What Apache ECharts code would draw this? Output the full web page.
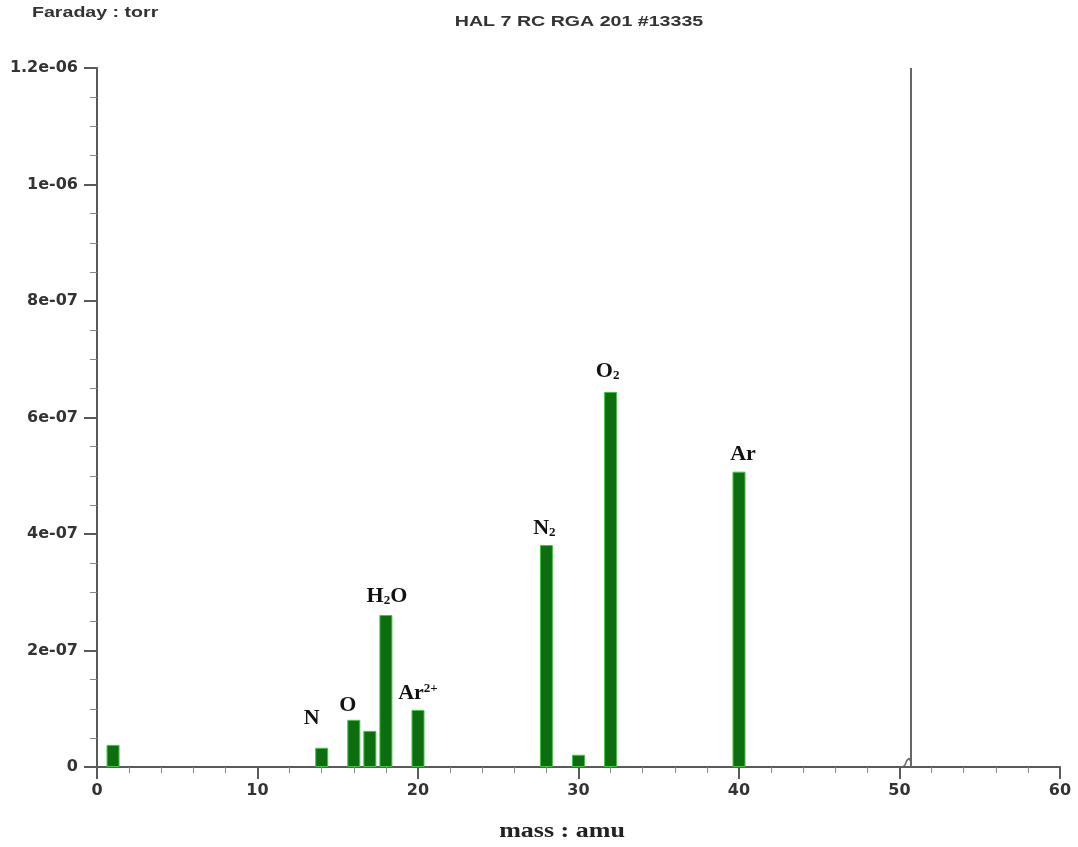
<!DOCTYPE html>
<html>
<head>
<meta charset="utf-8">
<style>
  html, body { margin: 0; padding: 0; background: #ffffff; }
  #chart { width: 1078px; height: 847px; }
</style>
<script src="https://cdn.jsdelivr.net/npm/echarts@6/dist/echarts.min.js"></script>
</head>
<body>
<div id="chart"></div>
<script>
// Mass spectrum peaks (mass in amu, partial pressure in torr)
const masses    = [1, 14, 16, 17, 18, 20, 28, 30, 32, 40];
const pressures = [3.8e-8, 3.3e-8, 8.1e-8, 6.2e-8, 2.61e-7, 9.8e-8, 3.81e-7, 2.1e-8, 6.44e-7, 5.07e-7];
const species   = ['', 'N', 'O', '', 'H2O', 'Ar2+', 'N2', '', 'O2', 'Ar'];

// Scan cursor position and the short trace leading up to it
const cursorMass = 50.7;
const traceMass  = [50.2, 50.35, 50.45, 50.6, 50.7, 50.75];
const traceValue = [0, 4e-9, 1.1e-8, 1.5e-8, 1.6e-8, 6e-9];

// Axis ticks
const xTicks = { min: 0, max: 60, interval: 10 };
const yTicks = { min: 0, max: 1.2e-6, interval: 2e-7 };

// Rich-text forms of the species names (subscripts / superscripts)
const richNames = {
  'N': '{b|N}',
  'O': '{b|O}',
  'H2O': '{b|H}{sub|2}{b|O}',
  'Ar2+': '{b|Ar}{sup|2+}',
  'N2': '{b|N}{sub|2}',
  'O2': '{b|O}{sub|2}',
  'Ar': '{b|Ar}'
};
const labelOffsets = {
  'N': [-10, -12],
  'O': [-6, 2],
  'H2O': [1, -2],
  'Ar2+': [0, 0],
  'N2': [-2, 0],
  'O2': [-3, -4],
  'Ar': [4, 0]
};

const richStyles = {
  b:   { fontFamily: 'Liberation Serif', fontWeight: 'bold', fontSize: 22, color: '#111' },
  sub: { fontFamily: 'Liberation Serif', fontWeight: 'bold', fontSize: 13, color: '#111', verticalAlign: 'bottom', padding: [9, 0, 0, 0] },
  sup: { fontFamily: 'Liberation Serif', fontWeight: 'bold', fontSize: 13, color: '#111', verticalAlign: 'top', padding: [0, 0, 7, 0] }
};

const barData = masses.map((m, i) => {
  const item = { value: [m, pressures[i]] };
  const name = species[i];
  if (name) {
    item.label = {
      show: true,
      position: 'top',
      distance: 6,
      offset: labelOffsets[name] || [0, 0],
      formatter: richNames[name],
      rich: richStyles
    };
  }
  return item;
});

function sciLabel(v) {
  if (Math.abs(v) < 1e-15) return '0';
  const s = Number(v.toPrecision(3)).toExponential();
  return s.replace(/e([+-])(\d)$/, 'e$10$2');
}

const axisColor = '#5a5a5a';
const tickFont = { fontFamily: 'DejaVu Sans', fontWeight: 'bold', fontSize: 16, color: '#333' };

const chart = echarts.init(document.getElementById('chart'), null, { renderer: 'canvas' });
chart.setOption({
  backgroundColor: '#ffffff',
  animation: false,
  grid: { left: 97, right: 18, top: 68, bottom: 80, containLabel: false },
  xAxis: {
    type: 'value',
    min: xTicks.min,
    max: xTicks.max,
    interval: xTicks.interval,
    axisLine: { show: true, lineStyle: { color: axisColor, width: 2 } },
    axisTick: { show: true, length: 12, lineStyle: { color: axisColor, width: 2 } },
    minorTick: { show: true, splitNumber: 5, length: 6, lineStyle: { color: '#888', width: 1 } },
    splitLine: { show: false },
    axisLabel: Object.assign({ margin: 16 }, tickFont)
  },
  yAxis: {
    type: 'value',
    min: yTicks.min,
    max: yTicks.max,
    interval: yTicks.interval,
    axisLine: { show: true, lineStyle: { color: axisColor, width: 2 } },
    axisTick: { show: true, length: 13, lineStyle: { color: axisColor, width: 2 } },
    minorTick: { show: true, splitNumber: 4, length: 7, lineStyle: { color: '#888', width: 1 } },
    splitLine: { show: false },
    axisLabel: Object.assign({ margin: 19, formatter: sciLabel }, tickFont)
  },
  graphic: [
    {
      type: 'text', left: 32, top: 6, scaleX: 1.4,
      style: { text: 'Faraday : torr', font: 'bold 14px "Liberation Sans"', fill: '#333' }
    },
    {
      type: 'text', x: 579, y: 22, scaleX: 1.4, originX: 0,
      style: { text: 'HAL 7 RC RGA 201 #13335', font: 'bold 14px "Liberation Sans"', fill: '#333', align: 'center', verticalAlign: 'middle' }
    },
    {
      type: 'text', x: 562, y: 832, scaleX: 1.3,
      style: { text: 'mass : amu', font: 'bold 20px "Liberation Serif"', fill: '#222', align: 'center', verticalAlign: 'middle' }
    }
  ],
  series: [
    {
      type: 'bar',
      barWidth: 13,
      data: barData,
      itemStyle: { color: '#0d6e10', borderColor: '#45c245', borderWidth: 1 },
      markLine: {
        silent: true,
        symbol: 'none',
        label: { show: false },
        lineStyle: { color: '#666', width: 2, type: 'solid' },
        data: [{ xAxis: cursorMass }]
      }
    },
    {
      type: 'line',
      data: traceMass.map((m, i) => [m, traceValue[i]]),
      showSymbol: false,
      lineStyle: { color: '#666', width: 1.5 }
    }
  ]
});
</script>
</body>
</html>
